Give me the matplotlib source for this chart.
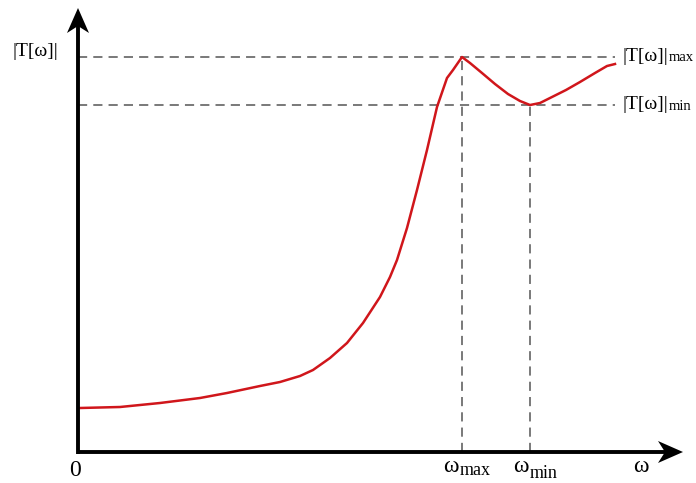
import matplotlib
matplotlib.use("Agg")
import matplotlib.pyplot as plt
from matplotlib.patches import Polygon

# Data (arbitrary units: omega along x, |T| along y)
omega = [0.02, 0.42, 0.82, 1.22, 1.49, 1.82, 2.02, 2.22, 2.35, 2.52, 2.69, 2.85,
         3.02, 3.12, 3.19, 3.29, 3.39, 3.49, 3.59, 3.69, 3.75, 3.84, 3.92, 4.04,
         4.17, 4.30, 4.42, 4.52, 4.62, 4.74, 4.88, 5.02, 5.17, 5.29, 5.37]
T_mag = [0.44, 0.45, 0.49, 0.54, 0.59, 0.66, 0.70, 0.76, 0.82, 0.94, 1.09, 1.29,
         1.55, 1.75, 1.92, 2.24, 2.62, 3.02, 3.45, 3.74, 3.82, 3.95, 3.89, 3.79,
         3.68, 3.58, 3.51, 3.47, 3.49, 3.55, 3.62, 3.70, 3.79, 3.86, 3.88]
omega_max, T_max = 3.84, 3.95
omega_min, T_min = 4.52, 3.47
dash_end = 5.37
y_axis_top = 4.44
x_axis_end = 6.05

plt.rcParams['font.family'] = ['Liberation Serif', 'DejaVu Serif']

fig = plt.figure(figsize=(6.96, 4.83), dpi=100)
ax = fig.add_axes([0, 0, 1, 1])
ax.set_xlim(-0.78, 6.18)
ax.set_ylim(-0.31, 4.52)
ax.axis('off')

dash_kw = dict(color='#555555', lw=1.1, dashes=(6, 4))
ax.plot([0, dash_end], [T_max, T_max], **dash_kw)
ax.plot([0, dash_end], [T_min, T_min], **dash_kw)
ax.plot([omega_max, omega_max], [0, T_max], **dash_kw)
ax.plot([omega_min, omega_min], [0, T_min], **dash_kw)

ax.plot(omega, T_mag, color='#d0161b', lw=1.8, solid_joinstyle='round')

# axes with barbed arrowheads
hl, hw, notch = 0.25, 0.11, 0.07
ax.plot([0, 0], [-0.015, y_axis_top - hl + notch], color='black', lw=2.8,
        solid_capstyle='butt')
ax.plot([-0.015, x_axis_end - hl + notch], [0, 0], color='black', lw=2.8,
        solid_capstyle='butt')
ax.add_patch(Polygon([(0, y_axis_top), (hw, y_axis_top - hl),
                      (0, y_axis_top - hl + notch), (-hw, y_axis_top - hl)],
                     closed=True, color='black', lw=0))
ax.add_patch(Polygon([(x_axis_end, 0), (x_axis_end - hl, hw),
                      (x_axis_end - hl + notch, 0), (x_axis_end - hl, -hw)],
                     closed=True, color='black', lw=0))


def label(x, y, main, sub, fs, sfs, va='center', dy=-2):
    t = ax.text(x, y, main, fontsize=fs, ha='left', va=va)
    if sub:
        ax.annotate(sub, xy=(1, 0), xycoords=t, xytext=(0.5, dy),
                    textcoords='offset points', fontsize=sfs,
                    ha='left', va='bottom')
    return t


ax.text(-0.43, 4.0, '|T[ω]|', fontsize=14, ha='center', va='center')
label(5.44, T_max, '|T[ω]|', 'max', 14, 10.5, dy=1)
label(5.44, T_min, '|T[ω]|', 'min', 14, 10.5, dy=0)
ax.text(-0.03, -0.18, '0', fontsize=17, ha='center', va='center')
label(3.65, -0.15, 'ω', 'max', 17, 13, dy=-1)
label(4.35, -0.15, 'ω', 'min', 17, 13, dy=-3)
ax.text(5.63, -0.14, 'ω', fontsize=17, ha='center', va='center')

fig.savefig('out.png', dpi=100)
